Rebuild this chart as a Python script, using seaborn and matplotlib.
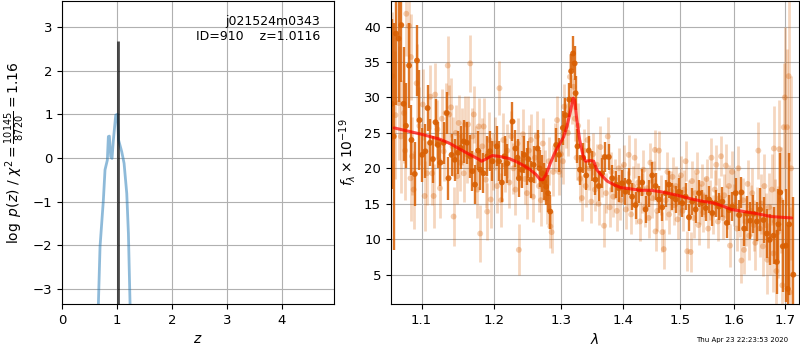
import matplotlib
matplotlib.use("Agg")
import matplotlib.pyplot as plt
import seaborn as sns
import pandas as pd
from matplotlib.ticker import NullLocator, FixedLocator, FixedFormatter

# ---------------- data ----------------
# p(z) curve (left panel)
pz_z = [0.650, 0.657, 0.687, 0.748, 0.778, 0.820, 0.839, 0.857, 0.882, 0.906,
        0.930, 0.973, 1.005, 1.025, 1.083, 1.125, 1.174, 1.204, 1.234, 1.240]
pz_log = [-3.60, -3.34, -2.03, -0.96, -0.27, -0.05, 0.49, 0.50, 0.03, -0.01,
          0.41, 0.98, 1.00, 0.41, 0.14, -0.12, -0.81, -1.72, -3.34, -3.60]
z_best = 1.0116
z_line = [-3.4, 2.68]

obj_name = "j021524m0343"
obj_id = 910
chi2_num, chi2_den, chi2_red = 10145, 8720, 1.16
timestamp = "Thu Apr 23 22:23:53 2020"

# spectrum, higher-S/N extraction (dark orange)
dark_wave = [1.0614, 1.0638, 1.0667, 1.0700, 1.0735, 1.0765, 1.0795, 1.0836, 1.0867, 1.0910,
             1.0939, 1.0972, 1.1006, 1.1049, 1.1079, 1.1113, 1.1150, 1.1185, 1.1215, 1.1250,
             1.1293, 1.1337, 1.1360, 1.1402, 1.1445, 1.1490, 1.1525, 1.1570, 1.1614, 1.1659,
             1.1690, 1.1727, 1.1771, 1.1802, 1.1846, 1.1901, 1.1937, 1.1974, 1.2037, 1.2070,
             1.2110, 1.2150, 1.2190, 1.2266, 1.2309, 1.2340, 1.2360, 1.2400, 1.2440, 1.2475,
             1.2500, 1.2540, 1.2580, 1.2640, 1.2670, 1.2710, 1.2740, 1.2770, 1.2800, 1.2834,
             1.2926, 1.2970, 1.3030, 1.3070, 1.3130, 1.3160, 1.3190, 1.3215, 1.3230, 1.3260,
             1.3300, 1.3350, 1.3400, 1.3440, 1.3490, 1.3548, 1.3602, 1.3657, 1.3701, 1.3767,
             1.3822, 1.3888, 1.3933, 1.3989, 1.4045, 1.4101, 1.4158, 1.4215, 1.4272, 1.4329,
             1.4387, 1.4445, 1.4503, 1.4561, 1.4619, 1.4678, 1.4737, 1.4796, 1.4855, 1.4915,
             1.4975, 1.5035, 1.5095, 1.5156, 1.5216, 1.5278, 1.5339, 1.5401, 1.5462, 1.5524,
             1.5587, 1.5649, 1.5712, 1.5775, 1.5858, 1.5902, 1.5966, 1.6030, 1.6095, 1.6140,
             1.6192, 1.6244, 1.6309, 1.6374, 1.6440, 1.6506, 1.6573, 1.6639, 1.6692, 1.6773,
             1.6840, 1.6870, 1.6910, 1.6960, 1.7025, 1.7060, 1.7090, 1.7175]
dark_flux = [29.1, 24.5, 39.0, 38.3, 40.2, 29.1, 26.0, 34.5, 24.0, 19.2,
             35.2, 26.8, 21.9, 22.4, 28.5, 23.6, 21.3, 26.5, 23.3, 20.8,
             23.6, 27.8, 18.6, 21.9, 21.2, 22.2, 22.9, 23.8, 23.6, 21.7,
             19.6, 17.7, 22.5, 19.8, 19.3, 21.7, 22.4, 21.0, 23.1, 21.0,
             18.0, 21.7, 20.7, 26.6, 22.8, 21.5, 18.6, 19.8, 21.9, 20.2,
             21.3, 18.4, 20.5, 22.8, 20.0, 19.3, 18.1, 17.4, 16.5, 13.9,
             23.3, 21.9, 25.7, 27.5, 29.7, 33.7, 36.2, 34.8, 30.6, 23.1,
             19.8, 21.5, 19.0, 22.5, 20.3, 18.4, 17.5, 19.3, 21.6, 21.6,
             18.6, 17.7, 17.2, 17.9, 16.7, 18.1, 16.0, 14.8, 17.0, 18.0,
             14.2, 16.5, 19.0, 17.5, 15.6, 14.5, 16.5, 17.7, 16.0, 15.6,
             16.7, 15.1, 16.0, 13.1, 15.3, 14.2, 16.5, 15.1, 14.4, 15.6,
             13.7, 15.1, 14.6, 15.3, 12.3, 14.1, 14.6, 16.5, 13.4, 16.6,
             11.5, 13.6, 12.6, 13.6, 12.5, 14.2, 12.7, 10.8, 9.9, 10.5,
             6.8, 12.1, 16.6, 9.0, 9.1, 3.0, 12.1, 5.0]
dark_err = [12, 16, 10, 9, 8, 8, 6, 6, 5, 4.5,
            5, 7, 3.8, 3.8, 3.3, 3.3, 3.3, 3.3, 3.3, 3.3,
            3.0, 3.0, 3.0, 3.0, 3.0, 3.0, 3.0, 3.0, 3.0, 3.0,
            2.8, 2.8, 2.8, 2.8, 2.8, 2.8, 2.8, 2.8, 2.8, 2.8,
            2.8, 2.8, 2.8, 2.8, 2.6, 2.6, 2.6, 2.6, 2.6, 2.6,
            2.6, 2.6, 2.6, 2.6, 2.6, 2.6, 2.6, 2.6, 2.6, 2.4,
            2.4, 2.4, 2.4, 2.4, 2.4, 2.4, 2.4, 2.4, 2.4, 2.4,
            2.1, 2.1, 2.1, 2.1, 2.1, 2.1, 2.1, 2.1, 2.1, 1.9,
            1.9, 1.9, 1.9, 1.9, 1.9, 1.9, 1.9, 1.9, 1.9, 1.9,
            1.9, 1.9, 1.9, 1.9, 1.9, 1.9, 1.9, 1.9, 1.9, 1.9,
            1.9, 1.9, 1.9, 1.9, 1.9, 1.9, 1.9, 1.9, 1.9, 1.9,
            1.9, 1.9, 1.9, 2.1, 2.1, 2.1, 2.1, 2.2, 2.2, 2.2,
            2.4, 2.5, 2.6, 2.7, 2.8, 3.0, 3.2, 3.4, 3.6, 4.0,
            4.5, 5.0, 5.5, 6.5, 8.0, 9.0, 10.0, 11.0]

# spectrum, second extraction (light orange)
light_wave = [1.0620, 1.0660, 1.0700, 1.0730, 1.0770, 1.0785, 1.0800, 1.0835, 1.0855, 1.0860,
              1.0875, 1.0895, 1.0935, 1.0970, 1.1015, 1.1040, 1.1070, 1.1115, 1.1140, 1.1160,
              1.1180, 1.1210, 1.1245, 1.1270, 1.1295, 1.1320, 1.1350, 1.1370, 1.1395, 1.1415,
              1.1430, 1.1460, 1.1480, 1.1500, 1.1520, 1.1550, 1.1570, 1.1590, 1.1610, 1.1630,
              1.1660, 1.1690, 1.1710, 1.1740, 1.1760, 1.1780, 1.1800, 1.1830, 1.1850, 1.1880,
              1.1900, 1.1930, 1.1950, 1.1980, 1.2010, 1.2040, 1.2076, 1.2100, 1.2130, 1.2160,
              1.2190, 1.2220, 1.2250, 1.2280, 1.2310, 1.2340, 1.2360, 1.2390, 1.2420, 1.2450,
              1.2480, 1.2510, 1.2540, 1.2570, 1.2600, 1.2630, 1.2660, 1.2690, 1.2720, 1.2750,
              1.2780, 1.2810, 1.2835, 1.2855, 1.2880, 1.2910, 1.2940, 1.2970, 1.3000, 1.3030,
              1.3050, 1.3080, 1.3110, 1.3140, 1.3170, 1.3200, 1.3220, 1.3245, 1.3270, 1.3300,
              1.3330, 1.3360, 1.3390, 1.3420, 1.3450, 1.3480, 1.3510, 1.3540, 1.3570, 1.3600,
              1.3630, 1.3660, 1.3690, 1.3720, 1.3750, 1.3780, 1.3810, 1.3840, 1.3870, 1.3900,
              1.3930, 1.3960, 1.3990, 1.4020, 1.4050, 1.4080, 1.4100, 1.4140, 1.4170, 1.4200,
              1.4230, 1.4260, 1.4290, 1.4320, 1.4350, 1.4380, 1.4410, 1.4440, 1.4470, 1.4500,
              1.4530, 1.4550, 1.4560, 1.4590, 1.4620, 1.4650, 1.4680, 1.4705, 1.4740, 1.4770,
              1.4800, 1.4830, 1.4860, 1.4890, 1.4920, 1.4950, 1.4980, 1.5010, 1.5040, 1.5070,
              1.5095, 1.5125, 1.5150, 1.5185, 1.5210, 1.5240, 1.5270, 1.5300, 1.5330, 1.5360,
              1.5390, 1.5420, 1.5450, 1.5480, 1.5510, 1.5540, 1.5570, 1.5600, 1.5630, 1.5660,
              1.5690, 1.5720, 1.5750, 1.5780, 1.5810, 1.5840, 1.5870, 1.5900, 1.5920, 1.5960,
              1.5990, 1.6020, 1.6050, 1.6080, 1.6110, 1.6140, 1.6170, 1.6190, 1.6230, 1.6260,
              1.6290, 1.6320, 1.6350, 1.6380, 1.6410, 1.6440, 1.6470, 1.6500, 1.6530, 1.6560,
              1.6590, 1.6620, 1.6650, 1.6680, 1.6710, 1.6740, 1.6770, 1.6780, 1.6800, 1.6830,
              1.6860, 1.6890, 1.6920, 1.6950, 1.6980, 1.7000, 1.7045, 1.7080, 1.7100, 1.7130]
light_flux = [33.0, 27.5, 29.2, 24.5, 27.8, 22.5, 41.8, 40.1, 18.6, 35.7,
              21.7, 17.0, 32.0, 26.0, 29.0, 16.1, 19.3, 30.1, 19.3, 16.1,
              30.4, 25.5, 17.2, 27.0, 22.4, 27.8, 34.5, 27.6, 28.6, 23.1,
              13.2, 25.0, 18.9, 26.4, 20.8, 24.5, 19.3, 26.2, 22.0, 26.2,
              34.8, 24.5, 27.6, 21.9, 17.0, 25.9, 10.8, 23.1, 25.9, 18.4,
              13.9, 24.0, 15.6, 21.0, 23.5, 17.5, 31.3, 15.5, 24.0, 20.5,
              22.5, 18.0, 24.5, 20.0, 17.0, 23.5, 8.5, 21.0, 24.8, 18.5,
              16.5, 22.5, 24.0, 16.0, 21.5, 24.5, 17.5, 15.5, 23.5, 19.0,
              15.8, 21.0, 11.8, 11.0, 19.5, 23.0, 26.8, 19.5, 22.0, 21.0,
              28.7, 26.0, 25.0, 32.9, 29.5, 31.5, 27.0, 21.5, 26.0, 18.5,
              15.8, 22.5, 17.5, 24.0, 20.0, 15.3, 22.0, 17.0, 20.5, 15.0,
              23.0, 19.0, 11.9, 16.5, 24.5, 14.5, 19.5, 16.0, 18.5, 14.0,
              20.0, 15.5, 17.8, 20.5, 14.2, 16.8, 21.9, 13.5, 17.5, 21.5,
              15.0, 18.0, 12.5, 16.5, 19.8, 14.5, 17.2, 13.0, 20.8, 15.8,
              18.2, 22.6, 11.1, 14.0, 22.5, 16.2, 11.0, 8.6, 15.5, 19.5,
              13.5, 16.8, 18.8, 14.8, 17.5, 12.8, 16.2, 19.0, 14.0, 17.0,
              21.0, 8.3, 15.5, 8.2, 18.2, 13.0, 16.5, 19.5, 12.0, 15.0,
              17.8, 13.8, 16.0, 18.5, 11.5, 15.5, 21.5, 13.5, 17.0, 20.5,
              12.5, 15.8, 21.7, 13.0, 16.2, 20.4, 14.5, 17.5, 9.1, 19.5,
              14.8, 16.5, 11.5, 20.0, 13.5, 7.0, 15.5, 8.5, 12.5, 17.8,
              10.5, 14.0, 16.5, 12.0, 9.5, 13.5, 22.5, 11.5, 15.0, 9.0,
              17.5, 12.0, 7.1, 14.5, 10.0, 17.0, 8.0, 22.8, 12.5, 5.5,
              11.0, 22.7, 15.5, 3.5, 25.8, 30.0, 25.8, 33.0, 2.5, 20.0]
light_err = [9, 9, 8, 8, 7, 7, 6, 6, 6, 6,
             5.5, 5.5, 5.5, 5.5, 5, 5, 4.5, 4.5, 4.5, 4.5,
             4.5, 4.2, 4.2, 4.2, 4.2, 4.2, 4.2, 4.2, 4.2, 4.2,
             4.2, 4.0, 4.0, 4.0, 4.0, 4.0, 4.0, 4.0, 4.0, 4.0,
             4.0, 4.0, 4.0, 4.0, 4.0, 4.0, 4.0, 4.0, 4.0, 4.0,
             4.0, 4.0, 4.0, 4.0, 3.8, 3.8, 3.8, 3.8, 3.8, 3.8,
             3.8, 3.6, 3.6, 3.6, 3.6, 3.6, 3.6, 3.6, 3.6, 3.6,
             3.6, 3.6, 3.6, 3.6, 3.6, 3.6, 3.6, 3.6, 3.6, 3.6,
             3.6, 3.4, 3.0, 3.0, 3.4, 3.4, 3.4, 3.2, 3.2, 3.2,
             3.2, 3.2, 3.2, 3.2, 3.2, 3.2, 3.2, 3.2, 3.2, 3.2,
             3.2, 3.0, 3.0, 3.0, 3.0, 3.0, 3.0, 3.0, 3.0, 3.0,
             3.0, 3.0, 3.0, 2.8, 2.8, 2.8, 2.8, 2.8, 2.8, 2.8,
             2.8, 2.8, 2.8, 2.8, 2.8, 2.8, 2.8, 2.8, 2.8, 2.8,
             2.8, 2.8, 2.8, 2.8, 2.8, 2.8, 2.8, 2.8, 2.8, 2.8,
             2.8, 2.8, 2.8, 2.8, 2.8, 2.8, 2.8, 2.8, 2.8, 2.8,
             2.8, 2.8, 2.8, 2.8, 2.8, 2.8, 2.8, 2.8, 2.8, 2.8,
             2.8, 2.8, 2.8, 2.8, 2.8, 2.8, 2.8, 2.8, 2.8, 2.8,
             2.8, 2.8, 2.8, 2.8, 2.8, 2.8, 2.8, 2.8, 2.8, 2.8,
             2.8, 2.8, 2.8, 3.0, 3.0, 3.0, 3.0, 3.0, 3.0, 3.0,
             3.0, 3.2, 3.2, 3.2, 3.2, 3.2, 3.2, 3.4, 3.4, 3.4,
             3.4, 3.6, 3.6, 3.6, 3.8, 3.8, 4.0, 4.0, 4.2, 4.2,
             4.5, 4.5, 4.8, 4.8, 5.0, 5.0, 5.5, 6.0, 6.0, 6.5,
             6.5, 7.0, 7.5, 8.0, 9.0, 10.0, 11.0, 12.0, 12.0, 13.0]

# best-fit model (red line)
model_wave = [1.0644, 1.1000, 1.1245, 1.1380, 1.1500, 1.1660, 1.1775, 1.1820, 1.1900, 1.1970,
              1.2060, 1.2210, 1.2310, 1.2430, 1.2530, 1.2620, 1.2680, 1.2720, 1.2770, 1.2834,
              1.2910, 1.2990, 1.3040, 1.3090, 1.3150, 1.3190, 1.3215, 1.3250, 1.3295, 1.3350,
              1.3386, 1.3470, 1.3520, 1.3570, 1.3660, 1.3740, 1.3850, 1.3960, 1.4130, 1.4300,
              1.4480, 1.4650, 1.4830, 1.5000, 1.5190, 1.5370, 1.5620, 1.5810, 1.5940, 1.6190,
              1.6450, 1.6720, 1.6920, 1.7140]
model_flux = [25.7, 24.8, 24.1, 23.5, 22.8, 21.9, 21.3, 21.0, 21.4, 21.8,
              21.7, 21.4, 21.0, 20.4, 19.8, 19.1, 18.4, 18.4, 19.1, 20.7,
              22.3, 23.6, 24.4, 25.8, 28.1, 29.9, 29.6, 26.8, 24.0, 21.7,
              21.0, 21.1, 21.0, 19.8, 18.9, 18.2, 17.7, 17.3, 17.1, 16.9,
              16.9, 16.7, 16.4, 16.1, 15.7, 15.4, 15.1, 14.6, 14.2, 13.9,
              13.6, 13.2, 13.1, 13.0]

wave_ticks = [1.1, 1.2, 1.3, 1.4, 1.5, 1.6, 1.7]
flux_ticks = [5, 10, 15, 20, 25, 30, 35, 40]

# ---------------- plot ----------------
sns.set_style("ticks")
plt.rcParams["font.family"] = ["DejaVu Sans"]
plt.rcParams.update({
    "axes.edgecolor": "black", "xtick.color": "black", "ytick.color": "black",
    "axes.labelcolor": "black", "text.color": "black",
    "grid.color": "#b0b0b0", "grid.linewidth": 0.8,
    "xtick.labelsize": 9.5, "ytick.labelsize": 9.5, "axes.labelsize": 10,
})

fig = plt.figure(figsize=(8, 3.5), dpi=100)
axz = fig.add_axes([0.0779, 0.1314, 0.3396, 0.8657])
axs = fig.add_axes([0.4884, 0.1314, 0.5108, 0.8657])

# left: p(z)
pz_df = pd.DataFrame({"z": pz_z, "logp": pz_log})
sns.lineplot(data=pz_df, x="z", y="logp", ax=axz, sort=False, estimator=None,
             color="#1f77b4", alpha=0.5, linewidth=2)
axz.vlines(z_best, z_line[0], z_line[1], color="black", alpha=0.7, linewidth=2)
axz.set_xlim(0, 4.95)
axz.set_ylim(-3.34, 3.59)
axz.set_xticks([0, 1, 2, 3, 4])
axz.set_yticks([-3, -2, -1, 0, 1, 2, 3])
axz.grid(True)
axz.set_axisbelow(True)
axz.set_xlabel(r"$z$")
axz.set_ylabel(r"$\log\ p(z)$" + " / " +
               r"$\chi^2=\frac{%d}{%d}=%.2f$" % (chi2_num, chi2_den, chi2_red))
axz.text(0.95, 0.955, "%s\nID=%d    z=%.4f" % (obj_name, obj_id, z_best),
         transform=axz.transAxes, ha="right", va="top", fontsize=9)

# right: spectrum
orange = "#d95f02"
light_df = pd.DataFrame({"wave": light_wave, "flux": light_flux})
dark_df = pd.DataFrame({"wave": dark_wave, "flux": dark_flux})
model_df = pd.DataFrame({"wave": model_wave, "flux": model_flux})

axs.errorbar(light_wave, light_flux, yerr=light_err, fmt="none",
             ecolor=orange, alpha=0.25, elinewidth=2, capsize=0)
sns.scatterplot(data=light_df, x="wave", y="flux", ax=axs, color=orange,
                alpha=0.3, s=18, edgecolor="none", linewidth=0)
axs.errorbar(dark_wave, dark_flux, yerr=dark_err, fmt="none",
             ecolor=orange, alpha=0.85, elinewidth=1.7, capsize=0)
sns.scatterplot(data=dark_df, x="wave", y="flux", ax=axs, color=orange,
                alpha=0.9, s=18, edgecolor="none", linewidth=0)
sns.lineplot(data=model_df, x="wave", y="flux", ax=axs, sort=False, estimator=None,
             color="red", alpha=0.7, linewidth=2.2)

axs.set_xscale("log")
axs.set_xlim(1.06, 1.73)
axs.set_ylim(0.86, 43.6)
axs.xaxis.set_major_locator(FixedLocator(wave_ticks))
axs.xaxis.set_major_formatter(FixedFormatter(["%.1f" % w for w in wave_ticks]))
axs.xaxis.set_minor_locator(NullLocator())
axs.set_yticks(flux_ticks)
axs.grid(True)
axs.set_axisbelow(True)
axs.set_xlabel(r"$\lambda$")
axs.set_ylabel(r"$f_\lambda\times10^{-19}$")

fig.text(0.985, 0.029, timestamp, ha="right", va="center", fontsize=5)

fig.savefig("out.png", dpi=100)
